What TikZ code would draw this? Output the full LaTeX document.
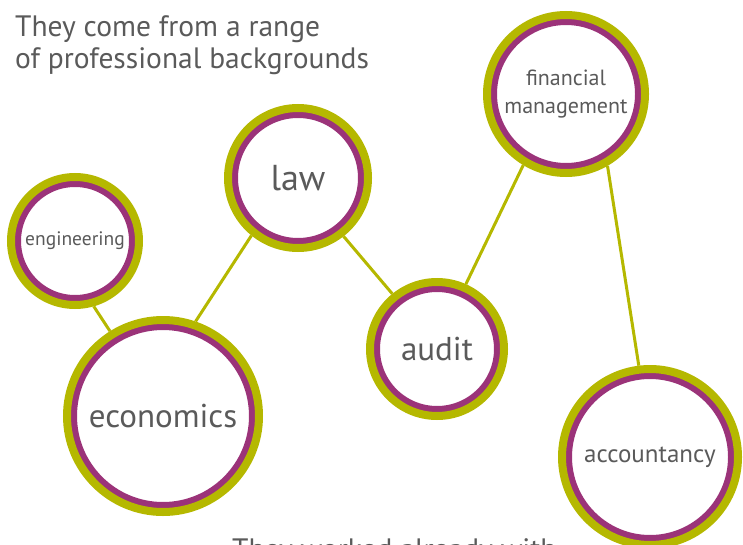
\documentclass[tikz,border=0pt]{standalone}
\usepackage{fontspec}
\setmainfont{PT Sans}
\usepackage{tikz}
\usepackage{xcolor}

\definecolor{olivering}{HTML}{B5B800}
\definecolor{purplering}{HTML}{9B3379}
\definecolor{textgrey}{HTML}{5A5A5A}

\begin{document}
\begin{tikzpicture}[x=1pt,y=-1pt,
  field/.style={circle,fill=white,draw=olivering,line width=8pt,inner sep=0pt,
                minimum size=2*#1,text=textgrey,align=center,
                path picture={\draw[purplering,line width=20pt]
                  (path picture bounding box.center) circle[radius=#1];}},
  link/.style={draw=olivering,line width=3pt},
  caption/.style={text=textgrey,align=left,inner sep=0pt,
                  font=\fontsize{29.5}{32}\selectfont}]

  \useasboundingbox (0,0) rectangle (743,545);

  \node[caption,anchor=base west] (intro) at (15,69)
    {They come from a range\\of professional backgrounds};
  \node[caption,anchor=base west] (outro) at (232,559) {They worked already with};

  \node[field=64pt,font=\fontsize{19.5}{22}\selectfont] (eng) at (75,241) {engineering};
  \node[field=70pt,font=\fontsize{36}{40}\selectfont] (law) at (298,178) {law};
  \node[field=67pt,font=\fontsize{33}{36}\selectfont] (aud) at (437,349) {audit};
  \node[field=79pt,font=\fontsize{22}{28}\selectfont] (fin) at (566,94)
    {financial\\management};
  \node[field=96pt,font=\fontsize{33}{36}\selectfont] (eco) at (163,416) {economics};
  \node[field=88pt,font=\fontsize{25}{28}\selectfont] (acc) at (650,457) {accountancy};

  % links between fields
  \draw[link] (eng.286.6) -- (eco.122.5);
  \draw[link] (law.231.7) -- (eco.71);
  \draw[link] (law.308.7) -- (aud.129.9);
  \draw[link] (aud.66.3) -- (fin.239.5);
  \draw[link] (fin.300.5) -- (acc.97.4);

\end{tikzpicture}
\end{document}
